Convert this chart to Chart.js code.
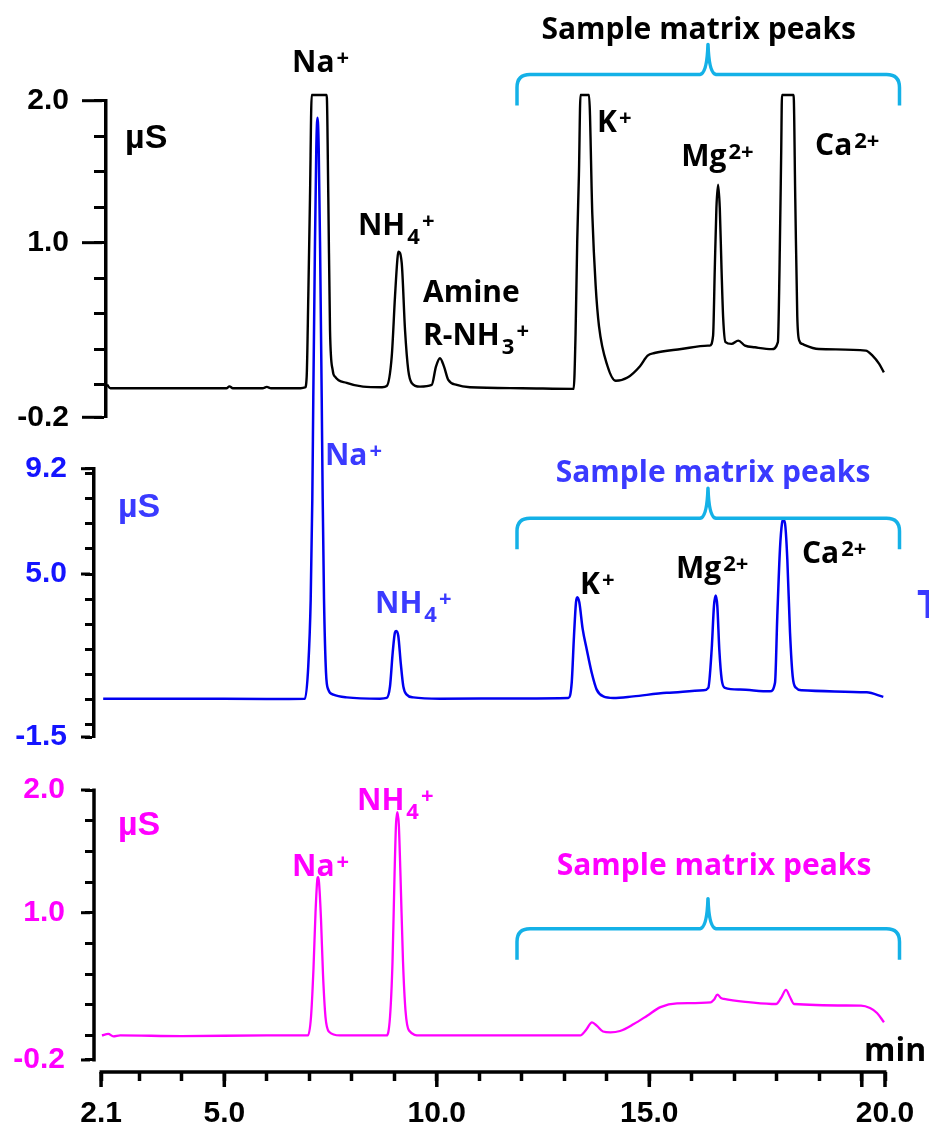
<!DOCTYPE html>
<html>
<head>
<meta charset="utf-8">
<script src="https://cdn.jsdelivr.net/npm/chart.js@4.4.1/dist/chart.umd.min.js"></script>
<style>
  body { margin: 0; background: #fff; }
  #wrap { position: relative; width: 929px; height: 1123px; }
  #wrap canvas { position: absolute; left: 0; top: 0; }
</style>
</head>
<body>
<div id="wrap">
  <canvas id="topChart" width="929" height="1123"></canvas>
  <canvas id="midChart" width="929" height="1123"></canvas>
  <canvas id="botChart" width="929" height="1123"></canvas>
</div>
<script>
// retention time (min) / conductivity (uS)
const topTrace = [
  [2.24, 0.0], [2.32, -0.025], [3.5, -0.025], [5.05, -0.025], [5.12, -0.012], [5.2, -0.025],
  [5.9, -0.025], [6.0, -0.016], [6.1, -0.025], [6.8, -0.025], [6.899, -0.02], [6.938, 0.056],
  [6.976, 0.62], [7.016, 1.32], [7.056, 2.04], [7.409, 2.04], [7.447, 1.32], [7.487, 0.385],
  [7.551, 0.1], [7.605, 0.056], [7.88, 0.012], [8.264, -0.014], [8.711, -0.018], [8.821, -0.01],
  [8.939, 0.197], [9.016, 0.62], [9.071, 0.878], [9.094, 0.937], [9.174, 0.857], [9.252, 0.385],
  [9.329, 0.1], [9.409, 0.012], [9.605, -0.014], [9.88, -0.002], [9.98, 0.127], [10.075, 0.186],
  [10.17, 0.127], [10.27, 0.033], [10.47, -0.002], [10.78, -0.018], [12.0, -0.025], [13.22, -0.03],
  [13.264, 0.346], [13.304, 1.01], [13.344, 1.48], [13.381, 2.04], [13.581, 2.04], [13.659, 1.2],
  [13.737, 0.7], [13.817, 0.41], [14.014, 0.133], [14.212, 0.027], [14.487, 0.05], [14.781, 0.13],
  [14.96, 0.204], [15.12, 0.223], [15.751, 0.251], [16.381, 0.275], [16.421, 0.275], [16.501, 0.346],
  [16.541, 0.818], [16.579, 1.244], [16.619, 1.409], [16.659, 1.24], [16.699, 0.818], [16.739, 0.464],
  [16.793, 0.3], [16.934, 0.287], [17.094, 0.31], [17.252, 0.275], [17.487, 0.263], [17.882, 0.25],
  [18.026, 0.3], [18.064, 0.818], [18.104, 1.645], [18.122, 2.04], [18.395, 2.04], [18.435, 1.3],
  [18.482, 0.48], [18.529, 0.31], [18.593, 0.287], [18.988, 0.251], [20.094, 0.24], [20.252, 0.204],
  [20.409, 0.146], [20.52, 0.086]
];
const midTrace = [
  [2.15, 0.03], [4.0, 0.03], [6.0, 0.02], [6.899, 0.03], [6.976, 1.33], [7.033, 4.0], [7.071, 8.0],
  [7.094, 12.04], [7.132, 18.0], [7.165, 22.0], [7.193, 23.2], [7.221, 22.0], [7.254, 18.0],
  [7.292, 12.04], [7.315, 8.0], [7.346, 4.0], [7.393, 1.07], [7.447, 0.39], [7.565, 0.19], [7.88, 0.08],
  [8.664, 0.03], [8.821, 0.06], [8.899, 0.52], [8.962, 1.86], [9.016, 2.67], [9.047, 2.73], [9.094, 2.53],
  [9.151, 1.46], [9.212, 0.52], [9.292, 0.19], [9.447, 0.08], [10.075, 0.03], [12.0, 0.04], [13.094, 0.056],
  [13.174, 0.66], [13.228, 2.53], [13.275, 3.87], [13.306, 4.07], [13.353, 3.87], [13.433, 2.8],
  [13.527, 2.0], [13.645, 1.06], [13.762, 0.39], [13.918, 0.12], [14.153, 0.056], [14.624, 0.12],
  [15.409, 0.26], [16.271, 0.36], [16.388, 0.46], [16.468, 2.0], [16.522, 3.74], [16.562, 4.14],
  [16.6, 3.74], [16.647, 2.0], [16.704, 0.79], [16.781, 0.46], [17.134, 0.39], [17.84, 0.32],
  [17.958, 0.66], [18.012, 3.33], [18.075, 6.01], [18.122, 7.02], [18.153, 7.15], [18.193, 7.02],
  [18.247, 5.61], [18.311, 2.67], [18.374, 0.92], [18.452, 0.46], [18.586, 0.36], [20.115, 0.28],
  [20.506, 0.1]
];
const botTrace = [
  [2.12, 0.0], [2.27, 0.012], [2.39, -0.008], [2.55, 0.0], [4.0, -0.005], [6.0, 0.0], [6.97, 0.0],
  [7.04, 0.15], [7.099, 0.55], [7.146, 1.0], [7.188, 1.27], [7.205, 1.29], [7.228, 1.25], [7.275, 0.95],
  [7.322, 0.5], [7.381, 0.15], [7.464, 0.03], [7.72, 0.0], [8.821, 0.0], [8.899, 0.15], [8.958, 0.6],
  [9.005, 1.3], [9.04, 1.72], [9.071, 1.82], [9.106, 1.72], [9.146, 1.3], [9.205, 0.6], [9.264, 0.2],
  [9.346, 0.04], [9.605, 0.0], [12.0, 0.0], [13.376, 0.0], [13.51, 0.044], [13.652, 0.107],
  [13.769, 0.077], [13.91, 0.032], [14.085, 0.025], [14.31, 0.036], [14.635, 0.093], [14.95, 0.161],
  [15.263, 0.231], [15.652, 0.262], [16.445, 0.27], [16.52, 0.29], [16.602, 0.333], [16.687, 0.305],
  [16.758, 0.297], [17.388, 0.27], [17.981, 0.256], [18.099, 0.305], [18.216, 0.371], [18.31, 0.313],
  [18.405, 0.256], [19.981, 0.243], [20.193, 0.223], [20.358, 0.183], [20.522, 0.107]
];

// axes
const X_MIN_TOP = 2.216, X_MIN = 1.934, X_MAX = 20.546;
const xTicks = [2.1, 3, 4, 5, 6, 7, 8, 9, 10, 11, 12, 13, 14, 15, 16, 17, 18, 19, 20, X_MAX];
const xTickLabels = ['2.1', '', '', '5.0', '', '', '', '', '10.0', '', '', '', '', '15.0', '', '', '', '', '', '20.0'];
const xMajor = [2.1, 5, 10, 15, 20, X_MAX];

const topTicks = [2, 1.75, 1.5, 1.25, 1, 0.75, 0.5, 0.25, 0, -0.23];
const topTickLabels = ['2.0', '', '', '', '1.0', '', '', '', '', '-0.2'];
const midTicks = [9.2, 9, 8, 7, 6, 5, 4, 3, 2, 1, 0, -1, -1.5];
const midTickLabels = ['9.2', '', '', '', '', '5.0', '', '', '', '', '', '', '-1.5'];
const botTicks = [2, 1.75, 1.5, 1.25, 1, 0.75, 0.5, 0.25, 0, -0.2];
const botTickLabels = ['2.0', '', '', '', '1.0', '', '', '', '', '-0.2'];

const BLUE = '#0000f0', BLUE_TXT = '#3a3aff', PINK = '#ff00ff', CYAN = '#14b1e7';

// peak labels, [text, kind] parts
const topNotes = [
  { t: 2.664, v: 1.667, parts: [['µS']], family: 'Liberation Sans', size: 34 },
  { t: 6.593, v: 2.202, parts: [['Na'], ['+', 'sup']] },
  { t: 8.145, v: 1.054, parts: [['NH'], ['4', 'sub'], ['+', 'sup']] },
  { t: 9.675, v: 0.582, parts: [['Amine']] },
  { t: 9.675, v: 0.28, parts: [['R-NH'], ['3', 'sub'], ['+', 'sup']] },
  { t: 13.77, v: 1.78, parts: [['K'], ['+', 'sup']] },
  { t: 15.75, v: 1.54, parts: [['Mg'], ['2+', 'sup']] },
  { t: 18.9, v: 1.617, parts: [['Ca'], ['2+', 'sup']] },
  { t: 16.162, v: 2.434, parts: [['Sample matrix peaks']], align: 'center' }
];
const midNotes = [
  { t: 2.499, v: 7.27, parts: [['µS']], family: 'Liberation Sans', size: 34, color: BLUE_TXT },
  { t: 7.369, v: 9.35, parts: [['Na'], ['+', 'sup']], color: BLUE_TXT },
  { t: 8.546, v: 3.445, parts: [['NH'], ['4', 'sub'], ['+', 'sup']], color: BLUE_TXT },
  { t: 16.499, v: 8.67, parts: [['Sample matrix peaks']], align: 'center', color: BLUE_TXT },
  { t: 13.369, v: 4.2, parts: [['K'], ['+', 'sup']] },
  { t: 15.628, v: 4.84, parts: [['Mg'], ['2+', 'sup']] },
  { t: 18.593, v: 5.44, parts: [['Ca'], ['2+', 'sup']] },
  { t: 21.299, v: 3.246, parts: [['T']], color: BLUE_TXT, size: 40 }
];
const botNotes = [
  { t: 2.499, v: 1.633, parts: [['µS']], family: 'Liberation Sans', size: 34, color: PINK },
  { t: 6.593, v: 1.299, parts: [['Na'], ['+', 'sup']], color: PINK },
  { t: 8.122, v: 1.837, parts: [['NH'], ['4', 'sub'], ['+', 'sup']], color: PINK },
  { t: 16.522, v: 1.307, parts: [['Sample matrix peaks']], align: 'center', color: PINK },
  { t: 20.052, v: -0.209, parts: [['min']], size: 32 }
];

function drawRich(ctx, x, y, note) {
  const size = note.size || 30;
  const small = Math.round(size * 0.72);
  const family = note.family || 'Open Sans';
  const segs = note.parts.map(([text, kind]) => {
    const s = kind ? small : size;
    ctx.font = `bold ${s}px "${family}"`;
    return { text, kind, s, w: ctx.measureText(text).width };
  });
  const total = segs.reduce((a, g) => a + g.w + (g.kind ? 2 : 0), 0);
  let cx = note.align === 'center' ? x - total / 2 : x;
  ctx.fillStyle = note.color || '#000';
  ctx.textAlign = 'left';
  ctx.textBaseline = 'alphabetic';
  segs.forEach(g => {
    ctx.font = `bold ${g.s}px "${family}"`;
    let dy = 0;
    if (g.kind === 'sup') dy = -size * 0.22;
    if (g.kind === 'sub') dy = size * 0.3;
    const gap = g.kind ? 2 : 0;
    ctx.fillText(g.text, cx + gap, y + dy);
    cx += g.w + gap;
  });
}

const notesPlugin = {
  id: 'notes',
  afterDraw(chart, args, opts) {
    const { ctx, chartArea } = chart;
    const xs = chart.scales.x, ys = chart.scales.y;
    ctx.save();
    ctx.strokeStyle = '#000';
    ctx.lineCap = 'butt';
    // longer major ticks
    if (opts.yMajor) {
      ctx.lineWidth = 3;
      opts.yMajor.values.forEach(v => {
        const py = ys.getPixelForValue(v);
        ctx.beginPath();
        ctx.moveTo(chartArea.left - opts.yMajor.len, py);
        ctx.lineTo(chartArea.left - 4, py);
        ctx.stroke();
      });
    }
    if (opts.axisY) {
      ctx.lineWidth = 3.5;
      ctx.beginPath();
      ctx.moveTo(chartArea.left, ys.getPixelForValue(opts.axisY[1]) - 1.5);
      ctx.lineTo(chartArea.left, ys.getPixelForValue(opts.axisY[0]) + 1.5);
      ctx.stroke();
    }
    if (opts.axisX) {
      const py = chartArea.bottom;
      ctx.lineWidth = 3.5;
      ctx.beginPath();
      ctx.moveTo(xs.getPixelForValue(opts.axisX[0]) - 1.5, py);
      ctx.lineTo(xs.getPixelForValue(opts.axisX[1]) + 1.5, py);
      ctx.stroke();
      xMajor.forEach(v => {
        const px = xs.getPixelForValue(v);
        ctx.beginPath();
        ctx.moveTo(px, py);
        ctx.lineTo(px, py + 15);
        ctx.stroke();
      });
    }
    // curly brace over the matrix peaks
    if (opts.brace) {
      const b = opts.brace;
      const L = xs.getPixelForValue(b.from), R = xs.getPixelForValue(b.to), M = xs.getPixelForValue(b.tip);
      const H = ys.getPixelForValue(b.level);
      ctx.strokeStyle = CYAN;
      ctx.lineWidth = 3.5;
      ctx.lineJoin = 'round';
      ctx.beginPath();
      ctx.moveTo(L, H + 31);
      ctx.lineTo(L, H + 13);
      ctx.quadraticCurveTo(L, H, L + 13, H);
      ctx.lineTo(M - 8, H);
      ctx.quadraticCurveTo(M - 1, H - 1, M, H - 30);
      ctx.quadraticCurveTo(M + 1, H - 1, M + 8, H);
      ctx.lineTo(R - 13, H);
      ctx.quadraticCurveTo(R, H, R, H + 13);
      ctx.lineTo(R, H + 31);
      ctx.stroke();
    }
    (opts.items || []).forEach(n => drawRich(ctx, xs.getPixelForValue(n.t), ys.getPixelForValue(n.v), n));
    ctx.restore();
  }
};

const tickFont = { family: 'Liberation Sans', weight: 'bold', size: 30 };

function panel(id, cfg) {
  return new Chart(document.getElementById(id), {
    type: 'line',
    data: {
      datasets: [{
        data: cfg.trace.map(([t, v]) => ({ x: t, y: v })),
        borderColor: cfg.color,
        borderWidth: cfg.width,
        pointRadius: 0,
        cubicInterpolationMode: 'monotone',
        clip: false
      }]
    },
    options: {
      responsive: false,
      animation: false,
      layout: { padding: cfg.padding },
      plugins: { legend: { display: false }, tooltip: { enabled: false }, notes: cfg.notes },
      scales: {
        x: cfg.x,
        y: {
          type: 'linear',
          min: cfg.yMin, max: cfg.yMax,
          afterBuildTicks: s => { s.ticks = cfg.ticks.map(v => ({ value: v })); },
          afterFit: s => { s.width = cfg.axisW; s.paddingTop = 0; s.paddingBottom = 0; },
          ticks: {
            autoSkip: false,
            callback: (v, i) => cfg.labels[i],
            color: cfg.tickColor,
            font: tickFont,
            padding: cfg.tickPad
          },
          grid: { drawOnChartArea: false, tickLength: cfg.tickLen, tickWidth: 3, tickColor: '#000' },
          border: { display: cfg.border, width: 3.5, color: '#000' }
        }
      }
    },
    plugins: [notesPlugin]
  });
}

panel('topChart', {
  trace: topTrace, color: '#000', width: 2.4,
  padding: { top: 100.7, bottom: 705.7, left: 0, right: 44 },
  x: { type: 'linear', min: X_MIN_TOP, max: X_MAX, display: false },
  yMin: -0.23, yMax: 2.0, ticks: topTicks, labels: topTickLabels,
  axisW: 106, tickColor: '#000', tickPad: 25, tickLen: 12, border: true,
  notes: {
    items: topNotes,
    yMajor: { values: [2, 1, -0.23], len: 24 },
    brace: { from: 11.887, to: 20.887, tip: 16.381, level: 2.185 }
  }
});

panel('midChart', {
  trace: midTrace, color: BLUE, width: 2.5,
  padding: { top: 468.7, bottom: 386, left: 0, right: 44 },
  x: { type: 'linear', min: X_MIN, max: X_MAX, display: false },
  yMin: -1.5, yMax: 9.2, ticks: midTicks, labels: midTickLabels,
  axisW: 94, tickColor: '#1414ff', tickPad: 18, tickLen: 9, border: true,
  notes: {
    items: midNotes,
    yMajor: { values: [9.2, 5, -1.5], len: 13 },
    brace: { from: 11.887, to: 20.887, tip: 16.381, level: 7.22 }
  }
});

panel('botChart', {
  trace: botTrace, color: PINK, width: 2.3,
  padding: { top: 790, bottom: 0, left: 0, right: 44 },
  x: {
    type: 'linear', min: X_MIN, max: X_MAX,
    afterBuildTicks: s => { s.ticks = xTicks.map(v => ({ value: v })); },
    afterFit: s => { s.height = 51; s.paddingLeft = 0; s.paddingRight = 0; },
    ticks: {
      autoSkip: false, maxRotation: 0, minRotation: 0,
      callback: (v, i) => xTickLabels[i],
      color: '#000',
      font: { family: 'Liberation Sans', weight: 'bold', size: 30 },
      padding: 15
    },
    grid: { drawOnChartArea: false, tickLength: 9, tickWidth: 3.5, tickColor: '#000' },
    border: { display: false }
  },
  yMin: -0.298, yMax: 2.0, ticks: botTicks, labels: botTickLabels,
  axisW: 94, tickColor: PINK, tickPad: 20, tickLen: 9, border: false,
  notes: {
    items: botNotes,
    yMajor: { values: [2, 1, -0.2], len: 13 },
    axisY: [-0.2, 2.0],
    axisX: [2.1, X_MAX],
    brace: { from: 11.887, to: 20.887, tip: 16.381, level: 0.87 }
  }
});
</script>
</body>
</html>
